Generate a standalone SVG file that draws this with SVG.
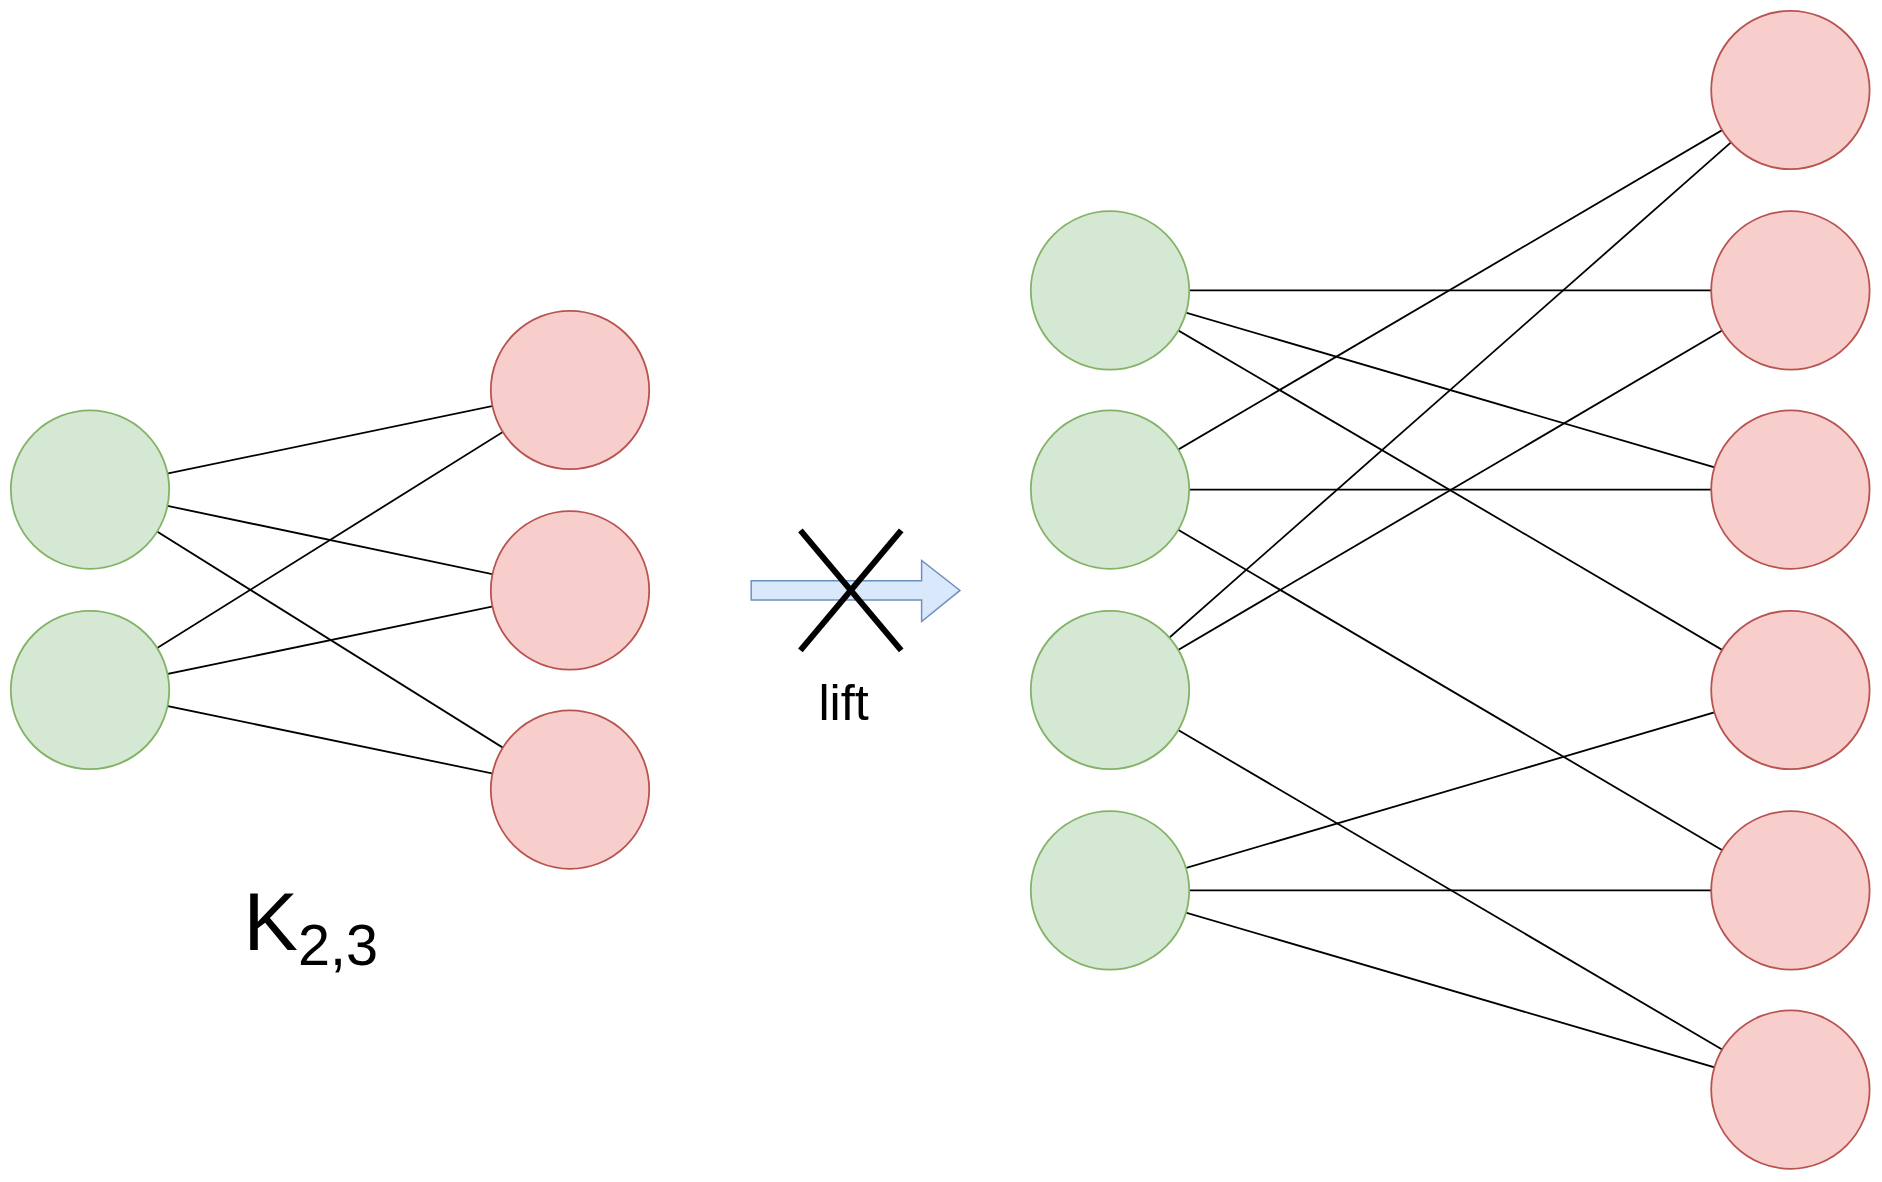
<svg xmlns="http://www.w3.org/2000/svg" width="1882" height="1182" viewBox="0 0 1882 1182">
<style>
.g{fill:#d5e8d4;stroke:#82b366;stroke-width:1.5}
.r{fill:#f8cecc;stroke:#b85450;stroke-width:1.5}
.e line{stroke:#000;stroke-width:1.5}
text{font-family:"Liberation Sans",Arial,sans-serif;fill:#000}
</style>
<rect width="1882" height="1182" fill="#fff"/>
<g transform="scale(1.2)">
<g id="connectors" class="e">
<line x1="75" y1="408" x2="475" y2="325"/><line x1="75" y1="408" x2="475" y2="492"/><line x1="75" y1="408" x2="475" y2="658"/>
<line x1="75" y1="575" x2="475" y2="325"/><line x1="75" y1="575" x2="475" y2="492"/><line x1="75" y1="575" x2="475" y2="658"/>
<line x1="925" y1="242" x2="1492" y2="242"/><line x1="925" y1="242" x2="1492" y2="408"/><line x1="925" y1="242" x2="1492" y2="575"/>
<line x1="925" y1="408" x2="1492" y2="75"/><line x1="925" y1="408" x2="1492" y2="408"/><line x1="925" y1="408" x2="1492" y2="742"/>
<line x1="925" y1="575" x2="1492" y2="75"/><line x1="925" y1="575" x2="1492" y2="242"/><line x1="925" y1="575" x2="1492" y2="908"/>
<line x1="925" y1="742" x2="1492" y2="575"/><line x1="925" y1="742" x2="1492" y2="742"/><line x1="925" y1="742" x2="1492" y2="908"/>
</g>
<g id="lg1"><circle class="g" cx="75" cy="408" r="66"/></g>
<g id="lg2"><circle class="g" cx="75" cy="575" r="66"/></g>
<g id="lr1"><circle class="r" cx="475" cy="325" r="66"/></g>
<g id="lr2"><circle class="r" cx="475" cy="492" r="66"/></g>
<g id="lr3"><circle class="r" cx="475" cy="658" r="66"/></g>
<g id="rg1"><circle class="g" cx="925" cy="242" r="66"/></g>
<g id="rg2"><circle class="g" cx="925" cy="408" r="66"/></g>
<g id="rg3"><circle class="g" cx="925" cy="575" r="66"/></g>
<g id="rg4"><circle class="g" cx="925" cy="742" r="66"/></g>
<g id="rr1"><circle class="r" cx="1492" cy="75" r="66"/></g>
<g id="rr2"><circle class="r" cx="1492" cy="242" r="66"/></g>
<g id="rr3"><circle class="r" cx="1492" cy="408" r="66"/></g>
<g id="rr4"><circle class="r" cx="1492" cy="575" r="66"/></g>
<g id="rr5"><circle class="r" cx="1492" cy="742" r="66"/></g>
<g id="rr6"><circle class="r" cx="1492" cy="908" r="66"/></g>
<g id="arrow">
<path d="M626,484 H768 V467 L800,492 L768,518 V500 H626 Z" fill="#dae8fc" stroke="#6c8ebf" stroke-width="1.2"/>
<line x1="667" y1="442" x2="751" y2="542" stroke="#000" stroke-width="5"/>
<line x1="751" y1="442" x2="667" y2="542" stroke="#000" stroke-width="5"/>
<text x="703" y="600" font-size="42" text-anchor="middle">lift</text>
</g>
<g id="label"><text x="203" y="792" font-size="68">K<tspan font-size="48" dy="12">2,3</tspan></text></g>
</g>
</svg>
